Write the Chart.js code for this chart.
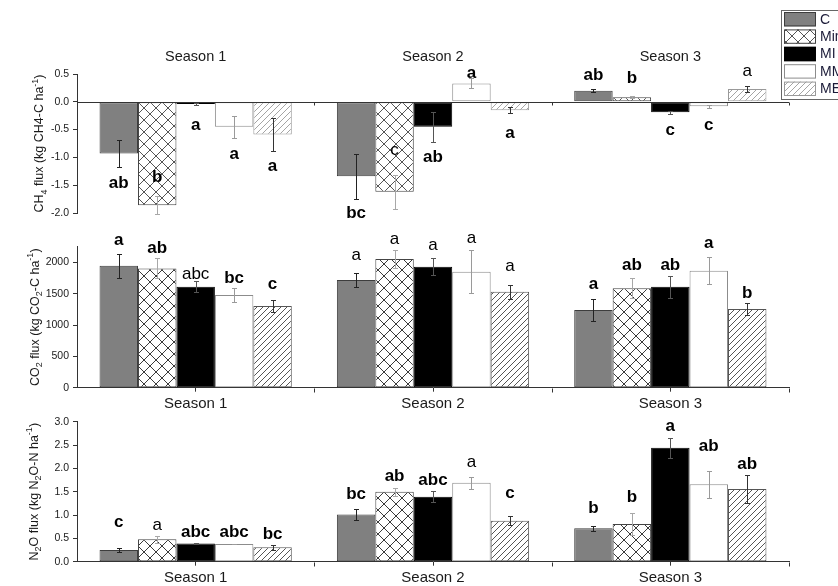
<!DOCTYPE html>
<html>
<head>
<meta charset="utf-8">
<title>Greenhouse gas fluxes by season and treatment</title>
<script src="https://cdn.jsdelivr.net/npm/chart.js@4/dist/chart.umd.min.js"></script>
<style>
  html, body { margin: 0; padding: 0; background: #fff; }
  #wrap { position: relative; width: 838px; height: 586px; overflow: hidden; background: #fff; }
  #wrap canvas { position: absolute; left: 0; top: 0; }
</style>
</head>
<body>
<div id="wrap">
  <canvas id="ch4" width="838" height="586"></canvas>
  <canvas id="co2" width="838" height="586"></canvas>
  <canvas id="n2o" width="838" height="586"></canvas>
</div>
<script>
// ---------- data ----------
const seasons = ['Season 1', 'Season 2', 'Season 3'];
const treatments = ['C', 'Min', 'MI', 'MM', 'ME'];

// rows = seasons, columns = treatments (C, Min, MI, MM, ME)
const ch4Mean = [
  [-0.93, -1.86, -0.04, -0.45, -0.59],
  [-1.34, -1.62, -0.45,  0.33, -0.15],
  [ 0.20,  0.08, -0.19, -0.08,  0.23]
];
const ch4Err = [
  [0.24, 0.16, 0.02, 0.20, 0.30],
  [0.40, 0.30, 0.27, 0.09, 0.06],
  [0.03, 0.02, 0.03, 0.03, 0.06]
];
const ch4Letters = [
  ['ab', 'b', 'a', 'a', 'a'],
  ['bc', 'c', 'ab', 'a', 'a'],
  ['ab', 'b', 'c', 'c', 'a']
];

const co2Mean = [
  [1946, 1904, 1611, 1478, 1303],
  [1718, 2053, 1930, 1850, 1531],
  [1239, 1585, 1611, 1866, 1255]
];
const co2Err = [
  [190, 160,  90, 110, 100],
  [110, 145, 135, 340, 115],
  [170, 160, 175, 213,  90]
];
const co2Letters = [
  ['a', 'ab', 'abc', 'bc', 'c'],
  ['a', 'a', 'a', 'a', 'a'],
  ['a', 'ab', 'ab', 'a', 'b']
];

const n2oMean = [
  [0.25, 0.48, 0.39, 0.38, 0.31],
  [1.01, 1.50, 1.39, 1.69, 0.88],
  [0.715, 0.81, 2.44, 1.66, 1.56]
];
const n2oErr = [
  [0.04, 0.07, 0.02, 0.01, 0.05],
  [0.11, 0.09, 0.12, 0.13, 0.09],
  [0.05, 0.23, 0.21, 0.29, 0.30]
];
const n2oLetters = [
  ['c', 'a', 'abc', 'abc', 'bc'],
  ['bc', 'ab', 'abc', 'a', 'c'],
  ['b', 'b', 'a', 'ab', 'ab']
];

// tick values of the y axes
const ch4Ticks = [-2.0, -1.5, -1.0, -0.5, 0.0, 0.5];
const co2Ticks = [0, 500, 1000, 1500, 2000];
const n2oTicks = [0.0, 0.5, 1.0, 1.5, 2.0, 2.5, 3.0];

// ---------- layout of the letter annotations (value where each letter is centred) ----------
const ch4LetterAt = [
  [-1.46, -1.35, -0.42, -0.94, -1.16],
  [-2.00, -0.87, -0.99,  0.52, -0.56],
  [ 0.48,  0.43, -0.52, -0.42,  0.54]
];
const co2LetterAt = [
  [2356, 2228, 1813, 1750, 1654],
  [2116, 2372, 2265, 2388, 1930],
  [1649, 1957, 1957, 2303, 1506]
];
const n2oLetterAt = [
  [0.84, 0.77, 0.64, 0.64, 0.59],
  [1.44, 1.84, 1.75, 2.14, 1.47],
  [1.14, 1.38, 2.91, 2.48, 2.09]
];
// letters set in regular weight ([season, treatment]); all others are bold
const ch4Regular = [[1, 1], [2, 4]];
const co2Regular = [[0, 2], [1, 0], [1, 1], [1, 2], [1, 3], [1, 4]];
const n2oRegular = [[0, 1], [1, 3]];

// ---------- styling ----------
const FONT = "'Liberation Sans', Arial, Helvetica, sans-serif";
Chart.defaults.font.family = FONT;
const INK = '#1a1a1a';
const AXIS = '#333';
const errColors = ['#222', '#a8a8a8', '#555', '#9a9a9a', '#333'];

function hatch(ctx, kind, line, size) {
  const c = document.createElement('canvas');
  c.width = size; c.height = size;
  const g = c.getContext('2d');
  g.fillStyle = '#fff';
  g.fillRect(0, 0, size, size);
  g.strokeStyle = line;
  g.lineWidth = 1;
  g.beginPath();
  // "/" strokes
  g.moveTo(-1, size + 1); g.lineTo(size + 1, -1);
  g.moveTo(-1, 1); g.lineTo(1, -1);
  g.moveTo(size - 1, size + 1); g.lineTo(size + 1, size - 1);
  if (kind === 'cross') {
    // "\" strokes
    g.moveTo(-1, -1); g.lineTo(size + 1, size + 1);
    g.moveTo(size - 1, -1); g.lineTo(size + 1, 1);
    g.moveTo(-1, size - 1); g.lineTo(1, size + 1);
  }
  g.stroke();
  return ctx.createPattern(c, 'repeat');
}

function treatmentStyles(ctx, light) {
  return [
    { bg: '#808080', border: '#3d3d3d' },
    { bg: hatch(ctx, 'cross', light ? '#555' : '#3a3a3a', 12), border: '#444' },
    { bg: '#000000', border: '#000000' },
    { bg: '#ffffff', border: '#8c8c8c' },
    { bg: hatch(ctx, 'slash', light ? '#a5a5a5' : '#555', 6), border: light ? '#999' : '#555' }
  ];
}

function buildDatasets(ctx, mean, light) {
  const st = treatmentStyles(ctx, light);
  return treatments.map((t, k) => ({
    label: t,
    data: mean.map(row => row[k]),
    backgroundColor: st[k].bg,
    borderColor: st[k].border,
    borderWidth: 1,
    borderSkipped: false,
    categoryPercentage: 0.81,
    barPercentage: 1.0
  }));
}

// error bars and significance letters
const fluxMarks = {
  id: 'fluxMarks',
  afterDatasetsDraw(chart, args, o) {
    const ctx = chart.ctx;
    const ys = chart.scales.y;
    const regular = new Set(o.regular.map(p => p[0] + '-' + p[1]));
    chart.data.datasets.forEach((ds, k) => {
      chart.getDatasetMeta(k).data.forEach((bar, i) => {
        const v = ds.data[i];
        const e = o.err[i][k];
        const xs = Math.round(bar.x) + 0.5;
        const yA = Math.round(ys.getPixelForValue(v + e)) + 0.5;
        const yB = Math.round(ys.getPixelForValue(v - e)) + 0.5;
        ctx.save();
        ctx.strokeStyle = errColors[k];
        ctx.lineWidth = 1;
        ctx.beginPath();
        ctx.moveTo(xs, yA); ctx.lineTo(xs, yB);
        ctx.moveTo(xs - 2.5, yA); ctx.lineTo(xs + 2.5, yA);
        ctx.moveTo(xs - 2.5, yB); ctx.lineTo(xs + 2.5, yB);
        ctx.stroke();
        const txt = o.letters[i][k];
        ctx.font = (regular.has(i + '-' + k) ? '' : 'bold ') + '17px ' + FONT;
        ctx.fillStyle = '#000';
        ctx.textAlign = 'center';
        ctx.textBaseline = 'middle';
        ctx.fillText(txt, bar.x, ys.getPixelForValue(o.letterAt[i][k]));
        ctx.restore();
      });
    });
  }
};

// rotated y-axis title with sub- and superscripts
const richTitle = {
  id: 'richTitle',
  afterDraw(chart, args, o) {
    const ctx = chart.ctx;
    const a = chart.chartArea;
    const size = o.size;
    const small = size * 0.72;
    ctx.save();
    ctx.translate(o.x, (a.top + a.bottom) / 2);
    ctx.rotate(-Math.PI / 2);
    let total = 0;
    o.parts.forEach(p => {
      ctx.font = (p.sub || p.sup ? small : size) + 'px ' + FONT;
      total += ctx.measureText(p.t).width;
    });
    let x = -total / 2;
    ctx.fillStyle = INK;
    ctx.textAlign = 'left';
    ctx.textBaseline = 'alphabetic';
    o.parts.forEach(p => {
      ctx.font = (p.sub || p.sup ? small : size) + 'px ' + FONT;
      const dy = p.sub ? size * 0.28 : (p.sup ? -size * 0.42 : 0);
      ctx.fillText(p.t, x, dy);
      x += ctx.measureText(p.t).width;
    });
    ctx.restore();
  }
};

// extra x-axis tick marks at the season boundaries
const boundaryTicks = {
  id: 'boundaryTicks',
  afterDraw(chart, args, o) {
    const ctx = chart.ctx;
    const xs = chart.scales.x;
    const a = chart.chartArea;
    const yLine = o.atZero ? Math.round(chart.scales.y.getPixelForValue(0)) + 0.5 : Math.round(a.bottom) + 0.5;
    ctx.save();
    ctx.strokeStyle = AXIS;
    ctx.lineWidth = 1;
    ctx.beginPath();
    if (o.atZero) {
      ctx.moveTo(a.left, yLine); ctx.lineTo(a.right, yLine);
    }
    const n = seasons.length;
    for (let i = 0; i < n; i++) {
      const b = i < n - 1 ? (xs.getPixelForValue(i) + xs.getPixelForValue(i + 1)) / 2 : a.right;
      const bx = Math.round(b) + 0.5;
      ctx.moveTo(bx, yLine); ctx.lineTo(bx, yLine + o.len);
    }
    ctx.stroke();
    if (o.titles) {
      ctx.fillStyle = INK;
      ctx.font = '14.5px ' + FONT;
      ctx.textAlign = 'center';
      ctx.textBaseline = 'middle';
      seasons.forEach((s, i) => ctx.fillText(s, xs.getPixelForValue(i), o.titleY));
    }
    ctx.restore();
  }
};

// treatment key box in the upper right corner
const treatmentKey = {
  id: 'treatmentKey',
  afterDraw(chart, args, o) {
    const ctx = chart.ctx;
    ctx.save();
    ctx.fillStyle = '#fff';
    ctx.fillRect(o.x, o.y, 80, o.h);
    ctx.strokeStyle = '#666';
    ctx.lineWidth = 1;
    ctx.strokeRect(o.x + 0.5, o.y + 0.5, 80, o.h);
    const step = (o.h - 2) / chart.data.datasets.length;
    chart.data.datasets.forEach((ds, k) => {
      const top = o.y + 2 + k * step;
      const h = step - 3;
      ctx.fillStyle = ds.backgroundColor;
      ctx.fillRect(o.x + 3, top, 32, h);
      ctx.strokeStyle = ds.borderColor === '#ffffff' ? '#888' : ds.borderColor;
      ctx.strokeRect(o.x + 3.5, top + 0.5, 31, h - 1);
      ctx.fillStyle = '#1b1b38';
      ctx.font = '14px ' + FONT;
      ctx.textAlign = 'left';
      ctx.textBaseline = 'middle';
      ctx.fillText(ds.label, o.x + 39, top + h / 2 + 0.5);
    });
    ctx.restore();
  }
};

function makeChart(id, cfg) {
  const canvas = document.getElementById(id);
  const ctx = canvas.getContext('2d');
  const showX = cfg.showX;
  const xH = showX ? 30 : 0;
  return new Chart(ctx, {
    type: 'bar',
    data: { labels: seasons, datasets: buildDatasets(ctx, cfg.mean, cfg.light) },
    options: {
      responsive: false,
      animation: false,
      devicePixelRatio: 1,
      events: [],
      layout: {
        padding: { left: 0, right: 838 - 789, top: cfg.top, bottom: 586 - cfg.bottom - xH }
      },
      scales: {
        x: {
          display: showX,
          offset: true,
          grid: { offset: false, drawOnChartArea: false, drawTicks: true, tickLength: 4, color: AXIS },
          border: { display: true, color: AXIS, width: 1 },
          ticks: { color: INK, font: { size: 15 }, padding: 3, maxRotation: 0 },
          afterFit(s) { s.height = xH; }
        },
        y: {
          min: cfg.min,
          max: cfg.max,
          grid: { drawOnChartArea: false, drawTicks: true, tickLength: 4, color: AXIS },
          border: { display: true, color: AXIS, width: 1 },
          ticks: {
            color: INK,
            font: { size: 10.5 },
            padding: 4,
            callback: cfg.fmt
          },
          afterBuildTicks(s) { s.ticks = cfg.ticks.map(v => ({ value: v })); },
          afterFit(s) { s.width = 77; }
        }
      },
      plugins: {
        legend: { display: false },
        tooltip: { enabled: false },
        fluxMarks: { err: cfg.err, letters: cfg.letters, letterAt: cfg.letterAt, regular: cfg.regular },
        richTitle: { parts: cfg.title, x: cfg.titleX, size: 12.5 },
        boundaryTicks: cfg.bounds,
        treatmentKey: cfg.key || false
      }
    },
    plugins: cfg.key ? [fluxMarks, richTitle, boundaryTicks, treatmentKey] : [fluxMarks, richTitle, boundaryTicks]
  });
}

makeChart('ch4', {
  mean: ch4Mean, err: ch4Err, letters: ch4Letters, letterAt: ch4LetterAt, regular: ch4Regular,
  ticks: ch4Ticks, min: -2.0, max: 0.5, fmt: v => Number(v).toFixed(1),
  top: 74, bottom: 213, showX: false, light: true, titleX: 43,
  title: [{ t: 'CH' }, { t: '4', sub: true }, { t: ' flux (kg CH4-C ha' }, { t: '-1', sup: true }, { t: ')' }],
  bounds: { atZero: true, len: 3, titles: true, titleY: 57 },
  key: { x: 781, y: 10, h: 89 }
});

makeChart('co2', {
  mean: co2Mean, err: co2Err, letters: co2Letters, letterAt: co2LetterAt, regular: co2Regular,
  ticks: co2Ticks, min: 0, max: 2250, fmt: v => String(v),
  top: 246.7, bottom: 387.7, showX: true, light: false, titleX: 38.5,
  title: [{ t: 'CO' }, { t: '2', sub: true }, { t: ' flux (kg CO' }, { t: '2', sub: true }, { t: '-C ha' }, { t: '-1', sup: true }, { t: ')' }],
  bounds: { atZero: false, len: 4, titles: false }
});

makeChart('n2o', {
  mean: n2oMean, err: n2oErr, letters: n2oLetters, letterAt: n2oLetterAt, regular: n2oRegular,
  ticks: n2oTicks, min: 0, max: 3.0, fmt: v => Number(v).toFixed(1),
  top: 421.7, bottom: 561.7, showX: true, light: false, titleX: 37.5,
  title: [{ t: 'N' }, { t: '2', sub: true }, { t: 'O flux (kg N' }, { t: '2', sub: true }, { t: 'O-N ha' }, { t: '-1', sup: true }, { t: ')' }],
  bounds: { atZero: false, len: 4, titles: false }
});
</script>
</body>
</html>
